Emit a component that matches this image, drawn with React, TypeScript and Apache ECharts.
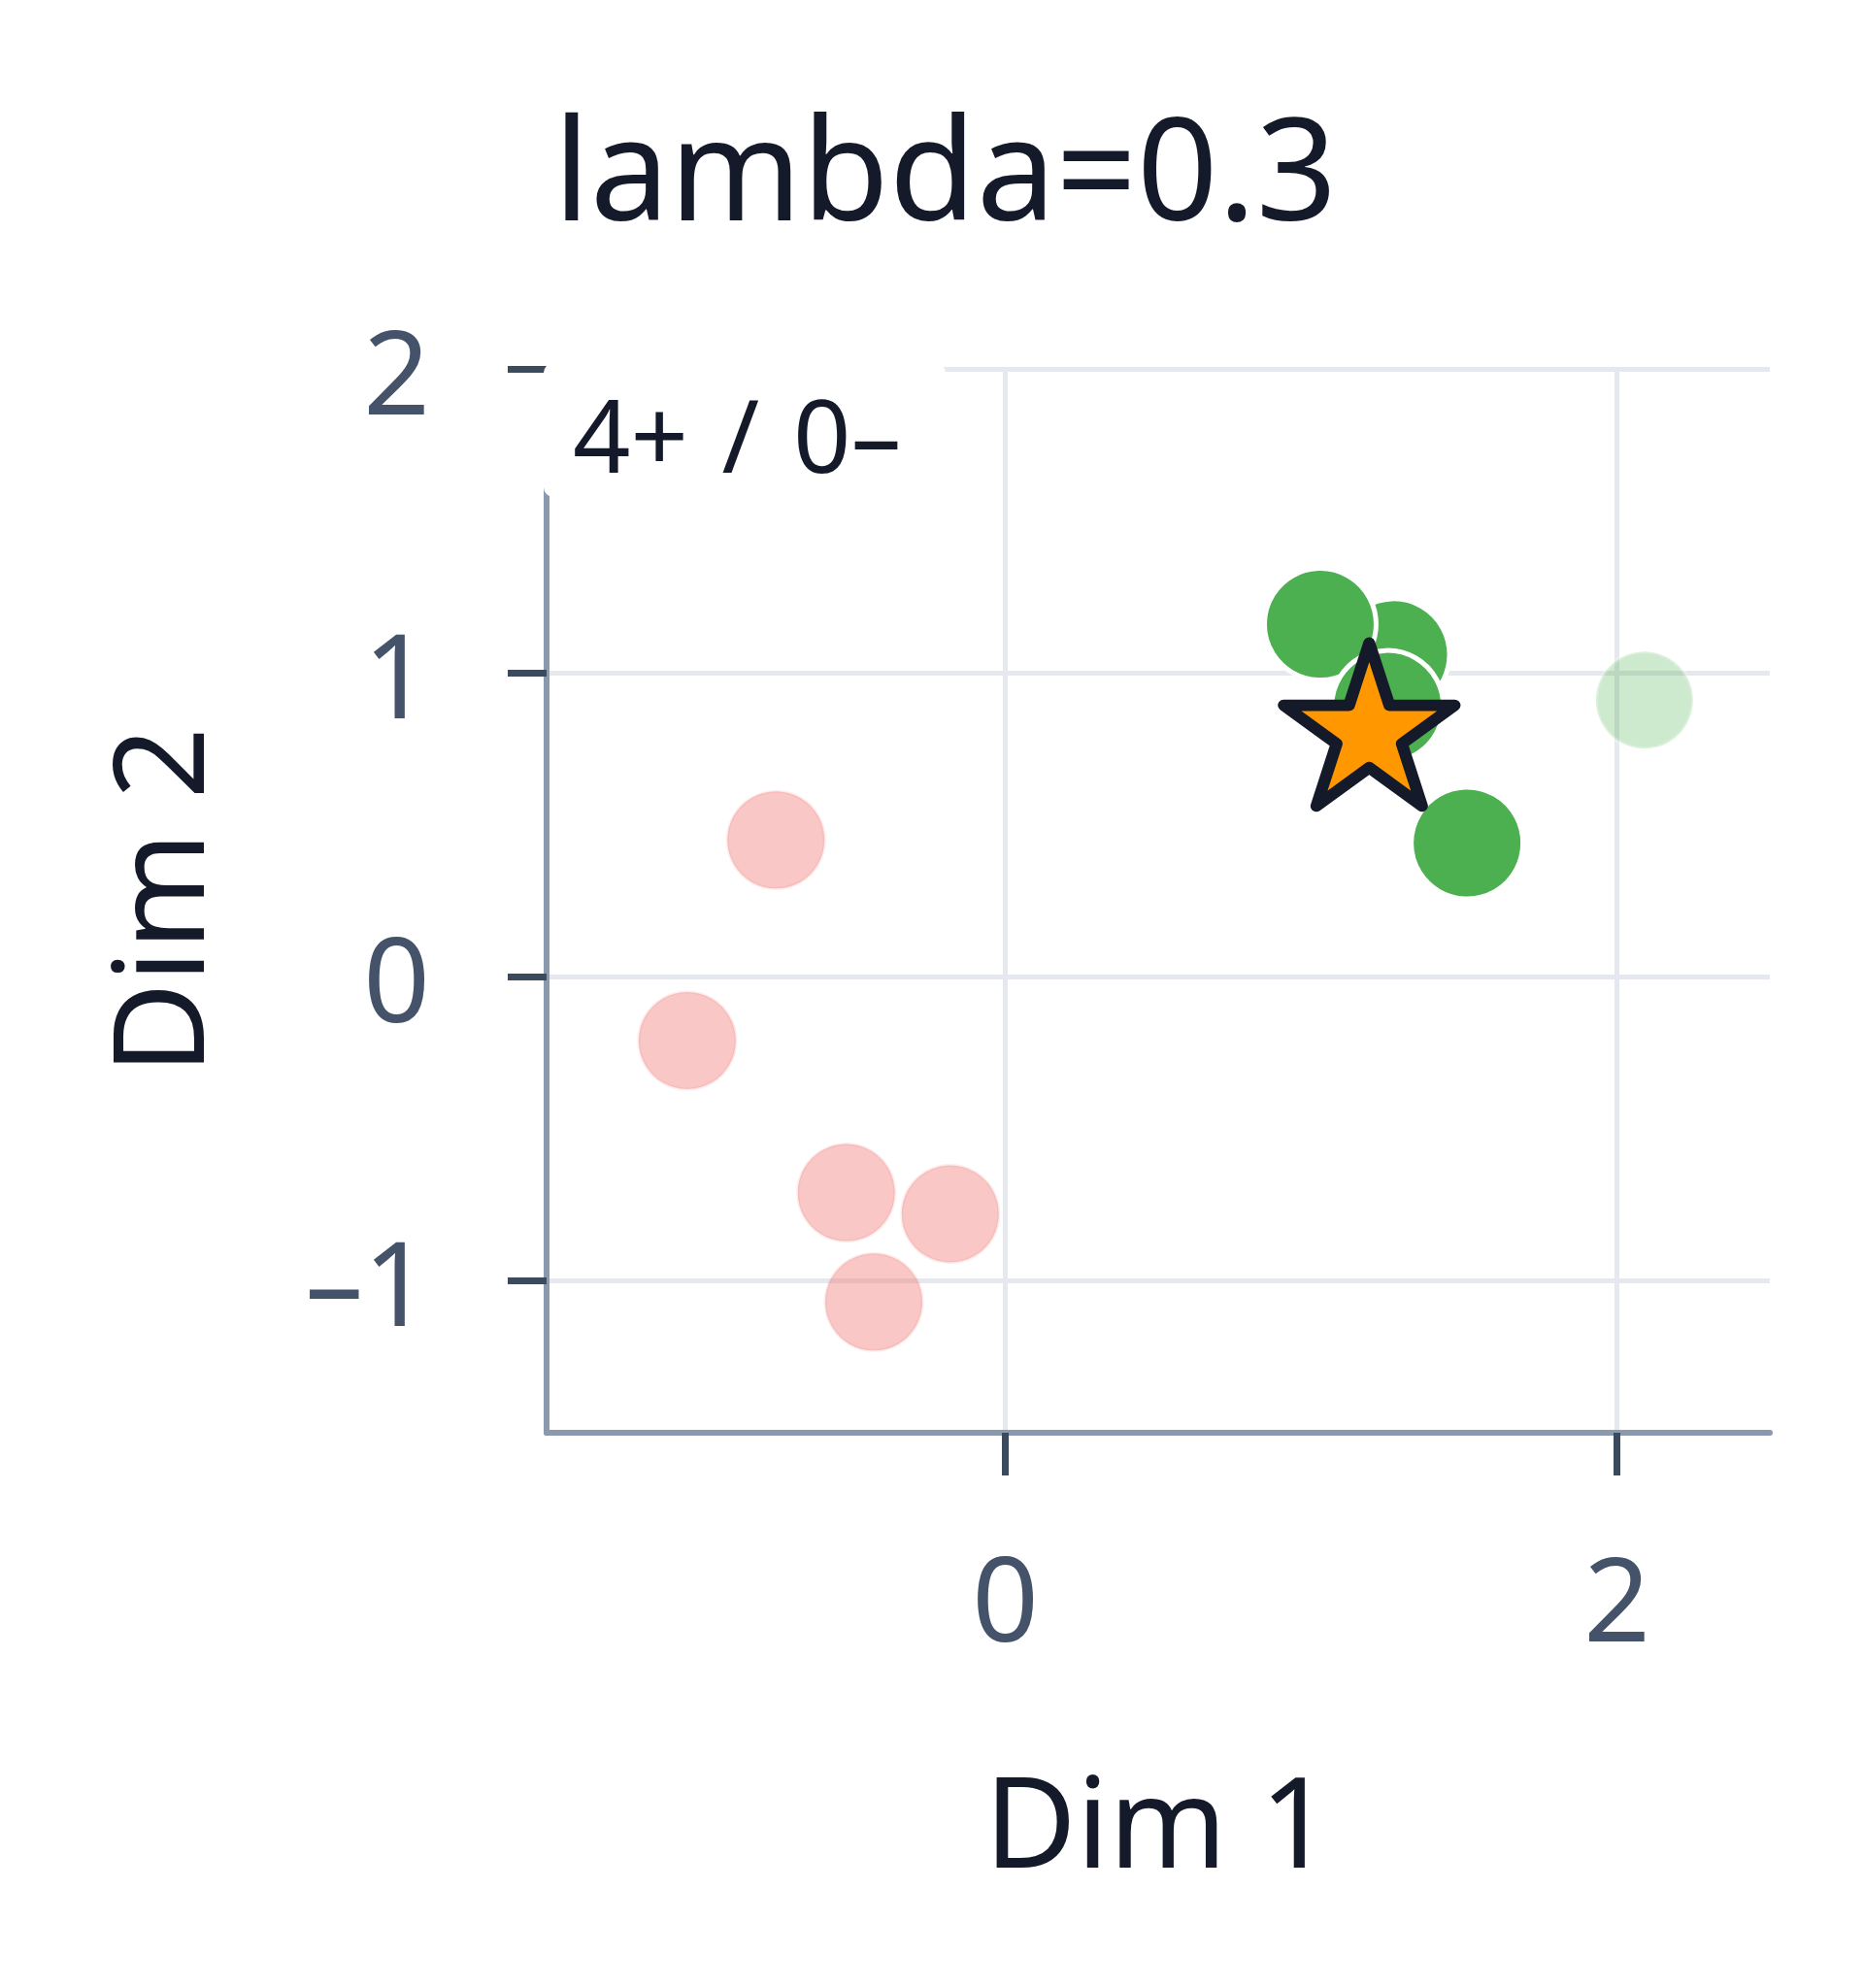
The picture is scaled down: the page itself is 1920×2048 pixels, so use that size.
import * as echarts from 'echarts';
import { useEffect, useRef } from 'react';

// points (Dim 1 / Dim 2)
const negX = [-0.75, -1.04, -0.52, -0.18, -0.43];
const negY = [0.45, -0.21, -0.71, -0.78, -1.07];

// drawn in this order, later ones sit on top
const posX = [1.27, 1.03, 1.25, 1.51];
const posY = [1.06, 1.16, 0.89, 0.44];

const fadedX = [2.09];
const fadedY = [0.91];

const queryX = [1.19];
const queryY = [0.83];

const xTicks = [0, 2];
const yTicks = [-1, 0, 1, 2];

const titleText = 'lambda=0.3';
const countText = '4+\u2004/\u20040\u2013';

const FONT = '"Noto Sans", "Open Sans", sans-serif';

function zip(xs: number[], ys: number[]) {
  return xs.map((x, i) => [x, ys[i]]);
}

// five pointed star outline for the query symbol
function starPath() {
  const pts: string[] = [];
  for (let i = 0; i < 10; i++) {
    const r = i % 2 === 0 ? 1 : 0.382;
    const a = (-90 + i * 36) * Math.PI / 180;
    pts.push((r * Math.cos(a)).toFixed(4) + ' ' + (r * Math.sin(a)).toFixed(4));
  }
  return 'path://M' + pts.join(' L') + ' Z';
}

const dash = (v: number) => String(v).replace('-', '\u2013');

export default function App() {
  const ref = useRef<HTMLDivElement>(null);

  useEffect(() => {
    if (!ref.current) return;
    const chart = echarts.init(ref.current, null, { renderer: 'svg' });
    chart.setOption({
      animation: false,
      backgroundColor: '#ffffff',
      title: {
        text: titleText,
        left: 570,
        top: 97,
        padding: 0,
        textStyle: { fontFamily: FONT, fontSize: 146, fontWeight: 'normal', color: '#141a29' },
      },
      grid: { left: 563, right: 97, top: 380, bottom: 572 },
      xAxis: {
        type: 'value',
        min: -1.5,
        max: 2.5,
        name: 'Dim 1',
        nameLocation: 'middle',
        nameGap: 332,
        nameTextStyle: { fontFamily: FONT, fontSize: 130, color: '#141a29' },
        axisLine: { show: true, onZero: false, lineStyle: { color: '#8a99ae', width: 6 } },
        axisTick: { show: true, length: 44, customValues: xTicks, lineStyle: { color: '#3c4a5e', width: 7 } },
        axisLabel: {
          customValues: xTicks,
          margin: 108,
          fontFamily: FONT,
          fontSize: 120,
          color: '#44526a',
          formatter: dash,
        },
        splitLine: { show: true, lineStyle: { color: '#e5e8ee', width: 5 } },
      },
      yAxis: {
        type: 'value',
        min: -1.5,
        max: 2,
        name: 'Dim 2',
        nameLocation: 'middle',
        nameGap: 339,
        nameTextStyle: { fontFamily: FONT, fontSize: 130, color: '#141a29' },
        axisLine: { show: true, onZero: false, lineStyle: { color: '#8a99ae', width: 6 } },
        axisTick: { show: true, length: 40, customValues: yTicks, lineStyle: { color: '#3c4a5e', width: 7 } },
        axisLabel: {
          customValues: yTicks,
          margin: 120,
          fontFamily: FONT,
          fontSize: 120,
          color: '#44526a',
          formatter: dash,
        },
        splitLine: { show: true, lineStyle: { color: '#e5e8ee', width: 5 } },
      },
      graphic: [
        {
          type: 'rect',
          z: 100,
          shape: { x: 560, y: 374, width: 414, height: 138, r: 10 },
          style: { fill: '#ffffff' },
        },
        {
          type: 'text',
          z: 101,
          x: 590,
          y: 446,
          style: {
            text: countText,
            fontFamily: FONT,
            fontSize: 104,
            fill: '#141a29',
            verticalAlign: 'middle',
          },
        },
      ],
      series: [
        {
          type: 'scatter',
          name: 'negative',
          data: zip(negX, negY),
          symbolSize: 100,
          itemStyle: {
            color: 'rgba(240,110,105,0.38)',
            borderColor: 'rgba(240,110,105,0.12)',
            borderWidth: 3,
            opacity: 1,
          },
          z: 2,
        },
        {
          type: 'scatter',
          name: 'faded',
          data: zip(fadedX, fadedY),
          symbolSize: 100,
          itemStyle: { color: '#4caf50', borderColor: '#ffffff', borderWidth: 4, opacity: 0.28 },
          z: 3,
        },
        {
          type: 'scatter',
          name: 'positive',
          data: zip(posX, posY),
          symbolSize: 115,
          itemStyle: { color: '#4caf50', borderColor: '#ffffff', borderWidth: 5, opacity: 1 },
          z: 4,
        },
        {
          type: 'scatter',
          name: 'query',
          data: zip(queryX, queryY),
          symbol: starPath(),
          symbolSize: [176, 168],
          itemStyle: { color: '#ff9800', borderColor: '#141a29', borderWidth: 12, borderJoin: 'round', opacity: 1 },
          z: 5,
        },
      ],
    });
    return () => chart.dispose();
  }, []);

  return (
    <div
      ref={ref}
      style={{ position: 'absolute', left: 0, top: 0, width: 1920, height: 2048 }}
    />
  );
}
